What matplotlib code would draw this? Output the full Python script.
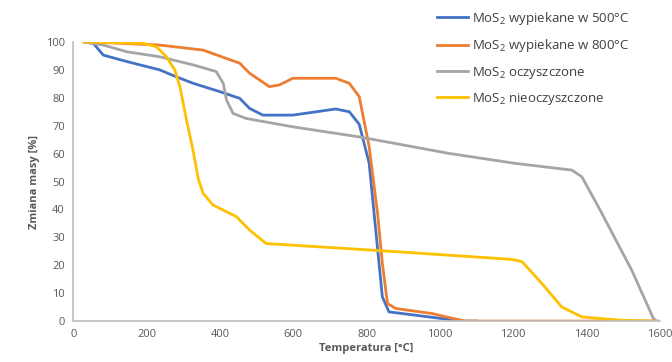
import matplotlib.pyplot as plt

plt.rcParams["font.family"] = ["Open Sans", "DejaVu Sans"]
plt.rcParams["mathtext.default"] = "regular"

# temperatura [°C] i zmiana masy [%]
t_500 = [30, 55, 82, 146, 236, 272, 327, 400, 454, 481, 517, 599, 716, 753, 780, 807, 825, 843, 861, 934, 1024, 1060, 1100]
m_500 = [100, 99.5, 95.3, 93, 90, 88, 85.2, 82.2, 79.8, 76.2, 73.8, 73.8, 76, 75, 70.5, 56.6, 32.6, 8.7, 3.3, 2.1, 0.6, 0, 0]

t_800 = [30, 100, 236, 354, 454, 481, 535, 562, 599, 716, 753, 780, 807, 830, 843, 857, 880, 979, 1024, 1070, 1595]
m_800 = [100, 99.7, 98.9, 97.1, 92.4, 88.8, 84, 84.6, 87, 87, 85.2, 80.4, 62.5, 38.6, 20.7, 6.3, 4.5, 2.7, 1.3, 0, 0]

t_czy = [30, 82, 146, 236, 327, 390, 409, 418, 436, 472, 599, 780, 1024, 1206, 1360, 1387, 1432, 1523, 1582, 1590]
m_czy = [100, 98.9, 96.5, 94.7, 91.8, 89.4, 85.2, 79.2, 74.4, 72.6, 69.6, 66, 60.1, 56.5, 54.1, 51.7, 41, 18.3, 1, 0]

t_nie = [30, 191, 227, 254, 277, 291, 309, 327, 341, 354, 381, 445, 481, 526, 671, 843, 1197, 1224, 1278, 1332, 1387, 1495, 1590]
m_nie = [100, 99.5, 98.3, 94.7, 90, 84, 72, 61, 51, 45.8, 41.6, 37.4, 32.6, 27.8, 26.6, 25.2, 22.1, 21.3, 13.5, 5.1, 1.5, 0.3, 0]

fig, ax = plt.subplots(figsize=(6.72, 3.62), dpi=100)
fig.subplots_adjust(left=0.109, right=0.982, top=0.884, bottom=0.113)

ax.plot(t_500, m_500, color="#4472C4", lw=2, label="MoS$_2$ wypiekane w 500°C")
ax.plot(t_800, m_800, color="#ED7D31", lw=2, label="MoS$_2$ wypiekane w 800°C")
ax.plot(t_czy, m_czy, color="#A5A5A5", lw=2, label="MoS$_2$ oczyszczone")
ax.plot(t_nie, m_nie, color="#FFC000", lw=2, label="MoS$_2$ nieoczyszczone")

ax.set_xlim(0, 1600)
ax.set_ylim(0, 100)
ax.set_xticks(range(0, 1601, 200))
ax.set_yticks(range(0, 101, 10))
ax.tick_params(length=0, labelsize=8, colors="#595959", pad=6)
for s in ["top", "right"]:
    ax.spines[s].set_visible(False)
for s in ["left", "bottom"]:
    ax.spines[s].set_color("#BFBFBF")
    ax.spines[s].set_linewidth(1.2)

ax.set_xlabel("Temperatura [°C]", fontsize=8, fontweight="bold", color="#595959", labelpad=2)
ax.set_ylabel("Zmiana masy [%]", fontsize=8, fontweight="bold", color="#595959", labelpad=4)

fig.legend(loc="upper left", bbox_to_anchor=(0.633, 1.005), frameon=False,
           fontsize=9.5, handlelength=2.3, labelspacing=0.78, handletextpad=0.35,
           labelcolor="#404040")

fig.savefig("out.png", dpi=100)
